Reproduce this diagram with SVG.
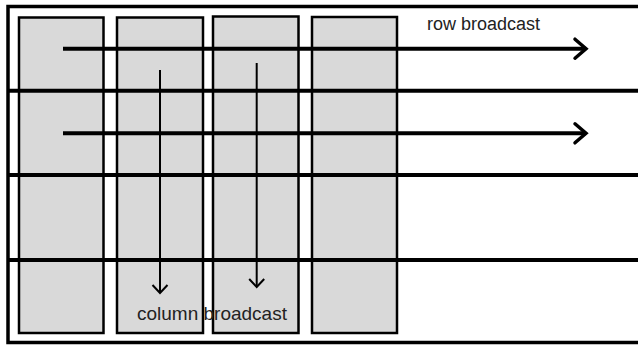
<svg xmlns="http://www.w3.org/2000/svg" width="638" height="345" viewBox="0 0 638 345">
  <defs>
    <style>
      .col { fill: #d9d9d9; stroke: #000; stroke-width: 2.5; }
      .grid { stroke: #000; stroke-width: 4; fill: none; }
      .frame { fill: #fff; stroke: #000; stroke-width: 3.5; }
      .rowarrow { stroke: #000; stroke-width: 4; fill: none; }
      .colarrow { stroke: #000; stroke-width: 2; fill: none; }
      .label { font-family: "Liberation Sans", Arial, sans-serif; fill: #222; }
    </style>
    <marker id="headRow" markerUnits="userSpaceOnUse" viewBox="-16 -14 20 28" markerWidth="20" markerHeight="28" refX="0" refY="0" orient="auto">
      <path d="M -11 -9.5 L 0 0 L -11 9.5" fill="none" stroke="#000" stroke-width="3.5" stroke-linecap="round" stroke-linejoin="miter"/>
    </marker>
    <marker id="headCol" markerUnits="userSpaceOnUse" viewBox="-12 -10 15 20" markerWidth="15" markerHeight="20" refX="0" refY="0" orient="auto">
      <path d="M -8 -7.5 L 0 0 L -8 7.5" fill="none" stroke="#000" stroke-width="2" stroke-linecap="butt"/>
    </marker>
  </defs>

  <rect x="0" y="0" width="638" height="345" fill="#fff"/>
  <rect id="frame" class="frame" x="8" y="6.5" width="640" height="336"/>

  <g id="col1"><rect class="col" x="19" y="17.5" width="84.5" height="315.5"/></g>
  <g id="col2"><rect class="col" x="117" y="17.5" width="86" height="315.5"/></g>
  <g id="col3"><rect class="col" x="213" y="16.5" width="85.5" height="316.5"/></g>
  <g id="col4"><rect class="col" x="312" y="17" width="85" height="316"/></g>

  <g id="rows">
    <line class="grid" x1="8" y1="90.7" x2="640" y2="90.7"/>
    <line class="grid" x1="8" y1="175" x2="640" y2="175"/>
    <line class="grid" x1="8" y1="260" x2="640" y2="260"/>
  </g>

  <g id="connectors">
    <line class="rowarrow" x1="63" y1="48.7" x2="586" y2="48.7" marker-end="url(#headRow)"/>
    <line class="rowarrow" x1="63" y1="133.3" x2="586" y2="133.3" marker-end="url(#headRow)"/>
    <line class="colarrow" x1="160" y1="70" x2="160" y2="293" marker-end="url(#headCol)"/>
    <line class="colarrow" x1="256.7" y1="63" x2="256.7" y2="287" marker-end="url(#headCol)"/>
  </g>

  <g id="labels">
    <text class="label" x="427" y="30" font-size="18">row broadcast</text>
    <text class="label" x="137" y="319.5" font-size="19">column broadcast</text>
  </g>
</svg>
